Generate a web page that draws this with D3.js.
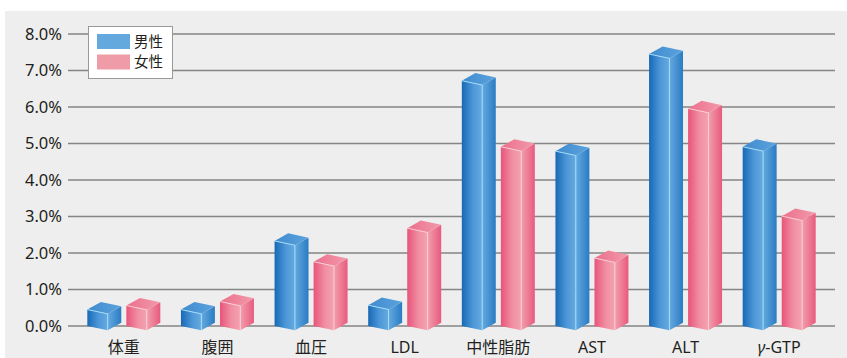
<!DOCTYPE html>
<html>
<head>
<meta charset="utf-8">
<script src="https://cdn.jsdelivr.net/npm/d3@7"></script>
<style>
  body { margin: 0; background: #fff; }
  svg { display: block; font-family: "Noto Sans", "Noto Sans CJK JP", sans-serif; }
</style>
</head>
<body>
<div id="chart"></div>
<script>
// Data (percent)
const categories = ["体重", "腹囲", "血圧", "LDL", "中性脂肪", "AST", "ALT", "γ-GTP"];
const series = ["男性", "女性"];
const male = [0.45, 0.45, 2.33, 0.57, 6.72, 4.79, 7.45, 4.91];
const female = [0.56, 0.67, 1.76, 2.68, 4.91, 1.86, 5.96, 3.01];
const yTicks = [0, 1, 2, 3, 4, 5, 6, 7, 8];

const W = 847, H = 358;

const svg = d3.select("#chart").append("svg")
  .attr("width", W)
  .attr("height", H);

// Panel background
svg.append("rect")
  .attr("x", 5).attr("y", 11)
  .attr("width", W - 5).attr("height", H - 11)
  .attr("fill", "#eeeeee");

// Scales
const y = d3.scaleLinear().domain([0, 8]).range([326, 34]);
const x0 = d3.scaleBand().domain(categories).range([77, 826]);
const x1 = d3.scaleBand().domain(series).range([-36.5, 36.5]).paddingInner(0.13);

// Gradients
const defs = svg.append("defs");
function grad(id, stops) {
  const g = defs.append("linearGradient").attr("id", id)
    .attr("x1", 0).attr("y1", 0).attr("x2", 1).attr("y2", 0);
  stops.forEach(s => g.append("stop").attr("offset", s[0]).attr("stop-color", s[1]));
}
grad("mFront", [[0, "#1769b5"], [0.55, "#4d97d8"], [1, "#66abe0"]]);
grad("mSide", [[0, "#64aae0"], [1, "#2a7bc3"]]);
grad("mTop", [[0, "#3f8bd0"], [1, "#5ca3dc"]]);
grad("fFront", [[0, "#e8547a"], [0.55, "#f08ea2"], [1, "#f4a3b0"]]);
grad("fSide", [[0, "#f29fad"], [1, "#e85a7d"]]);
grad("fTop", [[0, "#ec6f8c"], [1, "#f29aab"]]);

const colors = {
  "男性": {front: "url(#mFront)", side: "url(#mSide)", top: "url(#mTop)", edge: "#a9e2fb", legend: "#64a9dd"},
  "女性": {front: "url(#fFront)", side: "url(#fSide)", top: "url(#fTop)", edge: "#fbd3da", legend: "#f09ba8"}
};

// Gridlines and y labels
svg.append("g").selectAll("line")
  .data(yTicks)
  .join("line")
  .attr("x1", 68).attr("x2", 835)
  .attr("y1", d => y(d)).attr("y2", d => y(d))
  .attr("stroke", "#858585")
  .attr("stroke-width", 1.4);

svg.append("g").selectAll("text")
  .data(yTicks)
  .join("text")
  .attr("x", 62)
  .attr("y", d => y(d))
  .attr("dy", "0.36em")
  .attr("text-anchor", "end")
  .attr("font-size", 16.5)
  .attr("fill", "#231f20")
  .text(d => d.toFixed(1) + "%");

// 3D bars
const bw = x1.bandwidth();
const fw = bw * 0.6, sd = bw - fw;
const fdy = fw * 0.21, sdy = -sd * 0.56;

const rows = [];
categories.forEach((c, i) => {
  rows.push({cat: c, s: "男性", v: male[i]});
  rows.push({cat: c, s: "女性", v: female[i]});
});

const pts = a => a.map(p => p.join(",")).join(" ");

svg.append("g").selectAll("g")
  .data(rows)
  .join("g")
  .each(function(d) {
    const g = d3.select(this);
    const cx = x0(d.cat) + x0.bandwidth() / 2;
    const xl = cx + x1(d.s);
    const yt = y(d.v), yb = y(0);
    const FL = [xl, yt], FR = [xl + fw, yt + fdy];
    const SR = [xl + fw + sd, yt + fdy + sdy], BL = [xl + sd, yt + sdy];
    const FLb = [xl, yb], FRb = [xl + fw, yb + fdy], SRb = [xl + fw + sd, yb + fdy + sdy];
    const col = colors[d.s];
    g.append("polygon").attr("points", pts([FL, FR, FRb, FLb])).attr("fill", col.front);
    g.append("polygon").attr("points", pts([FR, SR, SRb, FRb])).attr("fill", col.side);
    g.append("polygon").attr("points", pts([FL, FR, SR, BL])).attr("fill", col.top);
    g.append("polyline").attr("points", pts([FL, FR, FRb]))
      .attr("fill", "none").attr("stroke", col.edge).attr("stroke-width", 0.9);
  });

// Category labels
const xlab = svg.append("g").selectAll("text")
  .data(categories)
  .join("text")
  .attr("x", d => x0(d) + x0.bandwidth() / 2)
  .attr("y", 352.5)
  .attr("text-anchor", "middle")
  .attr("font-size", 16)
  .attr("fill", "#231f20");
xlab.each(function(d) {
  const t = d3.select(this);
  if (d.startsWith("γ")) {
    t.append("tspan").attr("font-style", "italic").text("γ");
    t.append("tspan").text(d.slice(1));
  } else {
    t.text(d);
  }
});

// Legend
const lg = svg.append("g");
lg.append("rect")
  .attr("x", 88.5).attr("y", 26.5)
  .attr("width", 84).attr("height", 52)
  .attr("fill", "#fff").attr("stroke", "#999").attr("stroke-width", 1);
series.forEach((s, i) => {
  lg.append("rect")
    .attr("x", 97).attr("y", 34 + i * 20.5)
    .attr("width", 33).attr("height", 15)
    .attr("fill", colors[s].legend);
  lg.append("text")
    .attr("x", 134).attr("y", 41.5 + i * 20.5)
    .attr("dy", "0.36em")
    .attr("font-size", 14.5)
    .attr("fill", "#231f20")
    .attr("font-family", "'Noto Sans CJK JP', sans-serif")
    .text(s);
});
</script>
</body>
</html>
